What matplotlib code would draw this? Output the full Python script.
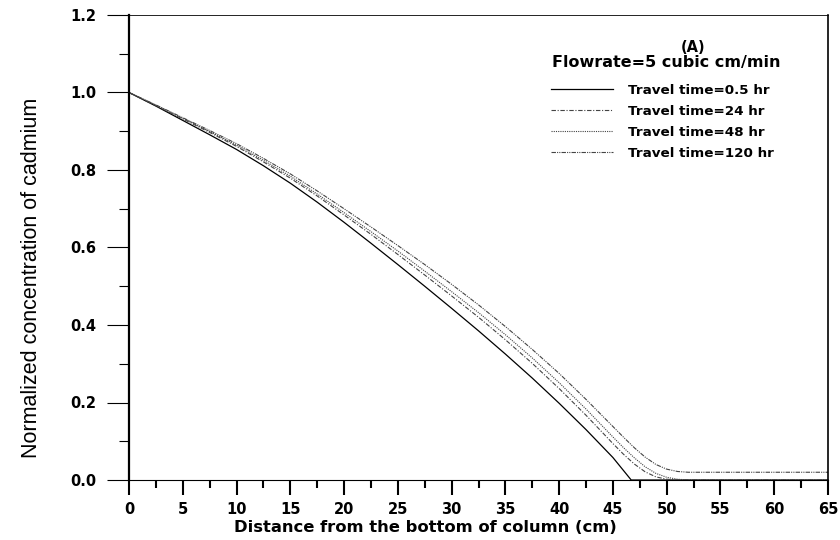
import numpy as np
import matplotlib.pyplot as plt
from matplotlib.ticker import MultipleLocator

# travel time curves
x_05 = [0, 2.5, 5, 7.5, 10, 12.5, 15, 17.5, 20, 22.5, 25, 27.5, 30, 32.5, 35,
        37.5, 40, 42.5, 45, 46.7, 50, 55, 60, 65]
c_05 = [1.0, 0.965, 0.928, 0.891, 0.853, 0.811, 0.766, 0.717, 0.665, 0.611, 0.556,
        0.500, 0.443, 0.385, 0.325, 0.263, 0.198, 0.130, 0.058, 0.0, 0.0, 0.0, 0.0, 0.0]

x_long = [0, 2.5, 5, 7.5, 10, 12.5, 15, 17.5, 20, 22.5, 25, 27.5, 30, 32.5, 35,
          37.5, 40, 42.5, 45, 46, 47, 48, 49, 50, 51, 52, 55, 60, 65]
c_24 = [1.0, 0.966, 0.932, 0.897, 0.861, 0.821, 0.779, 0.733, 0.684, 0.634, 0.582,
        0.529, 0.475, 0.420, 0.362, 0.301, 0.236, 0.167, 0.094, 0.066, 0.041, 0.021,
        0.008, 0.002, 0.0, 0.0, 0.0, 0.0, 0.0]
c_48 = [1.0, 0.967, 0.933, 0.899, 0.864, 0.825, 0.784, 0.738, 0.690, 0.641, 0.591,
        0.539, 0.486, 0.432, 0.375, 0.315, 0.251, 0.183, 0.111, 0.083, 0.057, 0.034,
        0.017, 0.007, 0.002, 0.0, 0.0, 0.0, 0.0]
c_120 = [1.0, 0.968, 0.935, 0.902, 0.868, 0.830, 0.790, 0.746, 0.700, 0.653, 0.605,
         0.556, 0.505, 0.452, 0.396, 0.337, 0.275, 0.208, 0.138, 0.110, 0.083, 0.059,
         0.040, 0.028, 0.022, 0.020, 0.020, 0.020, 0.020]

labels = ["Travel time=0.5 hr", "Travel time=24 hr", "Travel time=48 hr", "Travel time=120 hr"]

fig = plt.figure(figsize=(8.4, 5.4), dpi=100)
ax = fig.add_axes([129 / 840, 1 - 480 / 540, 699 / 840, 465 / 540])

ax.plot(x_05, c_05, color="black", lw=0.9, ls="-", label=labels[0], clip_on=False)
ax.plot(x_long, c_24, color="#444444", lw=0.8, ls=(0, (4, 1.5, 1, 1.5)), label=labels[1], clip_on=False)
ax.plot(x_long, c_48, color="#444444", lw=0.8, ls=(0, (1, 1)), label=labels[2], clip_on=False)
ax.plot(x_long, c_120, color="#444444", lw=0.8, ls=(0, (4, 1, 1, 1, 1, 1)), label=labels[3], clip_on=False)

ax.set_xlim(0, 65)
ax.set_ylim(0, 1.2)
ax.xaxis.set_major_locator(MultipleLocator(5))
ax.xaxis.set_minor_locator(MultipleLocator(2.5))
ax.yaxis.set_major_locator(MultipleLocator(0.2))
ax.yaxis.set_minor_locator(MultipleLocator(0.1))
ax.yaxis.set_major_formatter(plt.FormatStrFormatter("%.1f"))

ax.tick_params(axis="x", which="major", direction="out", length=10.8, width=1.5, pad=5)
ax.tick_params(axis="x", which="minor", direction="out", length=5.8, width=1.5)
ax.tick_params(axis="y", which="major", direction="out", length=15.8, width=0.8, pad=8)
ax.tick_params(axis="y", which="minor", direction="out", length=7.2, width=0.8)

for lab in ax.get_xticklabels() + ax.get_yticklabels():
    lab.set_fontfamily("DejaVu Sans")
    lab.set_fontweight("bold")
    lab.set_fontsize(10.5)

ax.spines["left"].set_linewidth(1.6)
ax.spines["bottom"].set_linewidth(0.8)
ax.spines["top"].set_linewidth(0.6)
ax.spines["right"].set_linewidth(1.2)

ax.set_xlabel("Distance from the bottom of column (cm)", fontfamily="DejaVu Sans",
              fontweight="bold", fontsize=11.8)
ax.xaxis.set_label_coords(0.4235, -0.085)
ax.set_ylabel("Normalized concentration of cadmium",
              fontfamily=["Liberation Sans Narrow", "Liberation Sans"], fontsize=15.5)
ax.yaxis.set_label_coords(-0.125, 0.434)

leg = ax.legend(loc="upper left", bbox_to_anchor=(544 / 840, 1 - 77 / 540),
                bbox_transform=fig.transFigure, frameon=False, borderpad=0,
                handlelength=4.6, handletextpad=1.1, labelspacing=0.6,
                prop={"family": "DejaVu Sans", "weight": "bold", "size": 9.7})

fig.text(693 / 840, 1 - 47 / 540, "(A)", ha="center", va="center",
         fontfamily="DejaVu Sans", fontweight="bold", fontsize=10.5)
fig.text(552 / 840, 1 - 62 / 540, "Flowrate=5 cubic cm/min", ha="left", va="center",
         fontfamily="DejaVu Sans", fontweight="bold", fontsize=11.5)

fig.savefig("out.png", dpi=100)
